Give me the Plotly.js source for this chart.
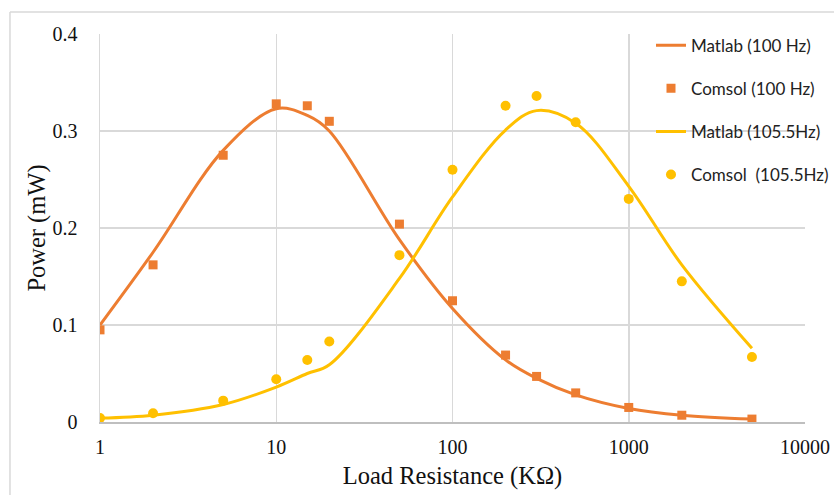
<!DOCTYPE html>
<html><head><meta charset="utf-8">
<script src="https://cdn.plot.ly/plotly-3.0.1.min.js"></script>
<style>html,body{margin:0;padding:0;background:#fff;}#chart{width:834px;height:495px;}</style>
</head><body><div id="chart"></div>
<script>
const resistance = [1, 2, 5, 10, 15, 20, 50, 100, 200, 300, 500, 1000, 2000, 5000];
const matlab100 = [0.100, 0.175, 0.280, 0.323, 0.316, 0.300, 0.188, 0.117, 0.064, 0.045, 0.028, 0.014, 0.007, 0.003];
const comsol100 = [0.095, 0.162, 0.275, 0.328, 0.326, 0.310, 0.204, 0.125, 0.069, 0.047, 0.030, 0.015, 0.007, 0.003];
const matlab105 = [0.004, 0.007, 0.018, 0.036, 0.050, 0.059, 0.148, 0.232, 0.301, 0.321, 0.308, 0.243, 0.162, 0.076];
const comsol105 = [0.004, 0.009, 0.022, 0.044, 0.064, 0.083, 0.172, 0.260, 0.326, 0.336, 0.309, 0.230, 0.145, 0.067];
const xTicks = [1, 10, 100, 1000, 10000];
const xTickText = ['1', '10', '100', '1000', '10000'];
const yTicks = [0, 0.1, 0.2, 0.3, 0.4];
const yTickText = ['0', '0.1', '0.2', '0.3', '0.4'];

const serif = 'Times New Roman, Liberation Serif, serif';
const orange = '#ED7D31', yellow = '#FFC000';
const traces = [
  {x: resistance, y: matlab100, name: 'Matlab (100 Hz)', mode: 'lines', line: {color: orange, width: 3, shape: 'spline', smoothing: 1}, legendgroup: 'a'},
  {x: resistance, y: comsol100, name: 'Comsol (100 Hz)', mode: 'markers', marker: {color: orange, symbol: 'square', size: 9}, legendgroup: 'b'},
  {x: resistance, y: matlab105, name: 'Matlab (105.5Hz)', mode: 'lines', line: {color: yellow, width: 3, shape: 'spline', smoothing: 1}, legendgroup: 'c'},
  {x: resistance, y: comsol105, name: 'Comsol  (105.5Hz)', mode: 'markers', marker: {color: yellow, symbol: 'circle', size: 10}, legendgroup: 'd'}
];
const layout = {
  width: 834, height: 495,
  margin: {l: 100, r: 29, t: 34, b: 73, autoexpand: false},
  paper_bgcolor: '#fff', plot_bgcolor: '#fff',
  font: {family: serif, color: '#000'},
  xaxis: {type: 'log', range: [0, 4], tickvals: xTicks, ticktext: xTickText,
    tickfont: {size: 20, family: serif, color: '#111'}, showgrid: true, gridcolor: '#D9D9D9', gridwidth: 1.5,
    showline: true, linecolor: '#BFBFBF', linewidth: 2, zeroline: false, ticks: 'outside', ticklen: 6, tickcolor: 'rgba(0,0,0,0)',
    title: {text: 'Load Resistance (KΩ)', font: {size: 24.5, family: serif, color: '#111'}, standoff: 10}},
  yaxis: {range: [0, 0.4], tickvals: yTicks, ticktext: yTickText,
    tickfont: {size: 20, family: serif, color: '#111'}, showgrid: true, gridcolor: '#D9D9D9', gridwidth: 1.5,
    showline: true, linecolor: '#D9D9D9', linewidth: 1.5, zeroline: false, ticks: 'outside', ticklen: 17, tickcolor: 'rgba(0,0,0,0)',
    title: {text: 'Power (mW)', font: {size: 24.5, family: serif, color: '#111'}, standoff: 0}},
  legend: {xref: 'container', yref: 'container', x: 1.02, xanchor: 'right', y: 0.944, yanchor: 'top', bgcolor: 'rgba(0,0,0,0)',
    font: {family: 'Lato, sans-serif', size: 17, color: '#222'}, traceorder: 'grouped', tracegroupgap: 18, itemwidth: 30},
  shapes: [
    {type: 'line', xref: 'paper', yref: 'paper', x0: -0.1277, x1: 1.05, y0: 1.0567, y1: 1.0567, line: {color: '#D9D9D9', width: 1.5}},
    {type: 'line', xref: 'paper', yref: 'paper', x0: -0.1277, x1: -0.1277, y0: 1.0567, y1: -0.2, line: {color: '#D9D9D9', width: 1.5}}
  ],
  showlegend: true
};
Plotly.newPlot('chart', traces, layout, {displayModeBar: false, staticPlot: true});
</script></body></html>
